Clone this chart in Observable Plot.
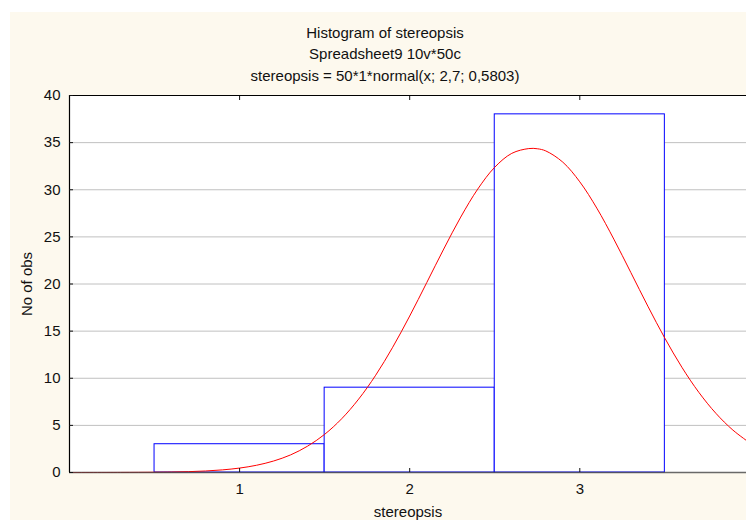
<!DOCTYPE html>
<html><head><meta charset="utf-8">
<script src="https://cdn.jsdelivr.net/npm/d3@7"></script>
<script src="https://cdn.jsdelivr.net/npm/@observablehq/plot@0.6"></script>
<style>
html,body{margin:0;padding:0;background:#fff;width:746px;height:520px;overflow:hidden;position:relative;font-family:"Liberation Sans",Arial,sans-serif;}
#panel{position:absolute;left:10px;top:12px;width:736px;height:508px;background:#fdf9ee;}
.t{position:absolute;left:385px;transform:translateX(-50%);white-space:nowrap;font-size:15px;line-height:15px;color:#111;}
#chart{position:absolute;left:0;top:83px;}
</style></head><body>
<div id="panel"></div>
<div class="t" style="top:25px">Histogram of stereopsis</div>
<div class="t" style="top:46px">Spreadsheet9 10v*50c</div>
<div class="t" style="top:68px">stereopsis = 50*1*normal(x; 2,7; 0,5803)</div>
<div id="chart"></div>
<script>
// Histogram bins (class limits) and counts
const binStart = [0.5, 1.5, 2.5];
const binEnd   = [1.5, 2.5, 3.5];
const counts   = [3, 9, 38];

// Fitted normal curve
const curveX = [0.0, 0.3, 0.5, 0.6, 0.7, 0.8, 0.9, 1.0, 1.1, 1.2, 1.3, 1.4, 1.5, 1.6, 1.7, 1.8, 1.9, 2.0, 2.1, 2.2, 2.3, 2.4, 2.5, 2.6, 2.7, 2.75, 2.8, 2.9, 3.0, 3.1, 3.2, 3.3, 3.4, 3.5, 3.6, 3.7, 3.8, 3.9, 4.0];
const curveY = [0.0, 0.01, 0.03, 0.05, 0.09, 0.16, 0.28, 0.47, 0.77, 1.22, 1.87, 2.80, 4.05, 5.70, 7.79, 10.32, 13.29, 16.60, 20.14, 23.71, 27.10, 30.07, 32.39, 33.86, 34.37, 34.35, 34.12, 32.93, 30.84, 28.05, 24.76, 21.22, 17.65, 14.25, 11.17, 8.50, 6.28, 4.50, 3.13];

// Axis ticks
const xTicks = [1, 2, 3];
const yTicks = [0, 5, 10, 15, 20, 25, 30, 35, 40];
const gridY  = [5, 10, 15, 20, 25, 30, 35];

const bins = binStart.map((s, i) => ({x1: s, x2: binEnd[i], count: counts[i]}));
const curve = curveX.map((x, i) => ({x, y: curveY[i]}));

const chart = Plot.plot({
  width: 746,
  height: 460,
  marginLeft: 69,
  marginRight: 0,
  marginTop: 12,
  marginBottom: 71,
  style: {fontFamily: '"Liberation Sans", Arial, sans-serif', fontSize: "15px", background: "transparent", color: "#111"},
  x: {domain: [0, 3.98]},
  y: {domain: [0, 40]},
  marks: [
    Plot.frame({fill: "white"}),
    Plot.ruleY(gridY, {stroke: "#c0c0c0", strokeWidth: 1}),
    Plot.rectY(bins, {x1: "x1", x2: "x2", y: "count", fill: "white", stroke: "#0000ff", strokeWidth: 1}),
    Plot.line(curve, {x: "x", y: "y", stroke: "#ff0000", strokeWidth: 1, curve: "catmull-rom"}),
    Plot.ruleY([0], {stroke: "#444", strokeOpacity: 0.8, strokeWidth: 1.5}),
    Plot.ruleY([40], {stroke: "#000", strokeWidth: 1}),
    Plot.ruleX([0], {stroke: "#000", strokeWidth: 1.2}),
    Plot.axisY({ticks: yTicks, tickSize: -4, tickPadding: 13, tickFormat: d => String(d), label: "No of obs", labelAnchor: "center", labelOffset: 48, labelArrow: "none"}),
    Plot.axisX({ticks: xTicks, tickSize: -4, tickPadding: 15, tickFormat: d => String(d), label: "stereopsis", labelAnchor: "center", labelOffset: 44, labelArrow: "none"}),
    Plot.axisX({anchor: "top", ticks: xTicks, tickSize: -4, tickFormat: () => "", label: null})
  ]
});
document.getElementById("chart").appendChild(chart);
</script>
</body></html>
